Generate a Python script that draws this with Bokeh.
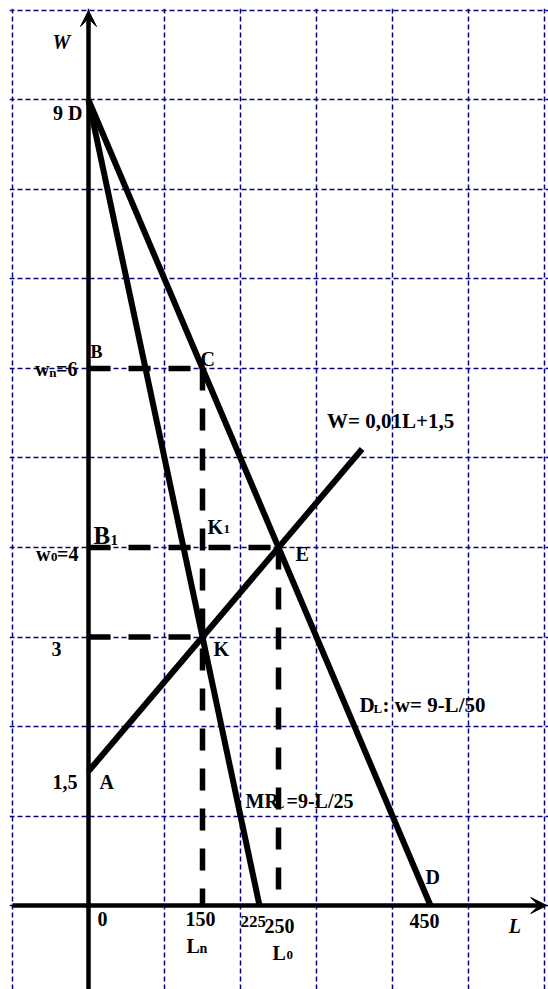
from bokeh.plotting import figure
from bokeh.models import Grid, FixedTicker, Arrow, VeeHead, Range1d
from bokeh.core.properties import value
from bokeh.embed import file_html
from bokeh.resources import INLINE

# ---------------- data ----------------
grid_L = [-100, 0, 100, 200, 300, 400, 500, 600]
grid_W = [-1, 0, 1, 2, 3, 4, 5, 6, 7, 8, 9, 10]

demand_L = [0, 450]      # D_L: w = 9 - L/50
demand_W = [9, 0]
mr_L = [0, 225]          # MR_L = 9 - L/25
mr_W = [9, 0]
wage_L = [0, 360]        # W = 0,01L + 1,5
wage_W = [1.5, 5.1]

C_L, C_W = 150, 6        # monopsony point C (L_n, w_n)
E_L, E_W = 250, 4        # competitive equilibrium E (L_0, w_0)
K_L, K_W = 150, 3        # point K

L_ticks = [0, 150, 225, 250, 450]
W_ticks = [1.5, 3, 4, 6, 9]

L_axis = [-100, 603]
W_axis = [-0.94, 10]

# ---------------- figure ----------------
p = figure(width=548, height=989,
           x_range=Range1d(-103.95, 605.26), y_range=Range1d(-0.9385, 10.0223),
           x_axis_type=None, y_axis_type=None,
           toolbar_location=None, output_backend="svg",
           min_border_left=9, min_border_top=8, min_border_right=0, min_border_bottom=0,
           outline_line_color=None)
p.background_fill_color = "white"
p.border_fill_color = "white"

for dim, ticks in ((0, grid_L), (1, grid_W)):
    p.add_layout(Grid(dimension=dim, ticker=FixedTicker(ticks=ticks),
                      grid_line_color="#000080", grid_line_dash="5 3",
                      grid_line_width=1.5))

# axes with arrows
p.add_layout(Arrow(end=VeeHead(size=16, fill_color="black", line_color="black"),
                   x_start=L_axis[0], y_start=0, x_end=L_axis[1], y_end=0,
                   line_width=4.5, line_color="black"))
p.add_layout(Arrow(end=VeeHead(size=16, fill_color="black", line_color="black"),
                   x_start=0, y_start=W_axis[0], x_end=0, y_end=W_axis[1],
                   line_width=4.5, line_color="black"))

# dashed guides
p.segment(x0=[0, 0, 0], y0=[C_W, E_W, K_W], x1=[C_L, E_L, K_L], y1=[C_W, E_W, K_W],
          line_color="black", line_width=5.5, line_dash="22 18")
p.segment(x0=[C_L, E_L], y0=[C_W, E_W], x1=[C_L, E_L], y1=[0, 0],
          line_color="black", line_width=5.5, line_dash="22 18")

# main lines
p.line(demand_L, demand_W, line_color="black", line_width=6)
p.line(mr_L, mr_W, line_color="black", line_width=6)
p.line(wage_L, wage_W, line_color="black", line_width=6)

FONT = value("Liberation Serif")
BASE_SHIFT = 0.34  # compensates the renderer's baseline placement (fraction of font size)


def lab(txt, L, W, dx, dy, size=20, align="left", style="bold"):
    p.text(x=[L], y=[W], text=[txt], x_offset=dx, y_offset=dy - BASE_SHIFT * size,
           text_font=FONT, text_font_size=f"{size}px", text_font_style=style,
           text_align=align, text_baseline="alphabetic", text_color="black")


# axis names
lab("W", 0, W_axis[1], -36, 38, 20, style="bold italic")
lab("L", L_axis[1], 0, -38, 27, 20, style="bold italic")

# W-axis labels
lab("9 D", 0, W_ticks[4], -6, 20, 20, "right")
lab("B", 0, W_ticks[3], 2, -10, 18)
lab("=6", 0, W_ticks[3], -11, 7, 20, "right")
lab("n", 0, W_ticks[3], -32, 8, 13, "right")
lab("w", 0, W_ticks[3], -39, 7, 20, "right")
lab("B", 0, W_ticks[2], 5, -4, 25)
lab("1", 0, W_ticks[2], 22, -2, 15)
lab("=4", 0, W_ticks[2], -10, 13, 20, "right")
lab("0", 0, W_ticks[2], -31, 14, 13, "right")
lab("w", 0, W_ticks[2], -38, 13, 20, "right")
lab("3", 0, W_ticks[1], -27, 19, 20, "right")
lab("1,5", 0, W_ticks[0], -11, 18, 20, "right")
lab("A", 0, W_ticks[0], 11, 18, 20)

# point labels
lab("C", C_L, C_W, -2, -3, 20)
lab("K", C_L, E_W, 5, -14, 20)
lab("1", C_L, E_W, 21, -14, 13)
lab("K", K_L, K_W, 11, 19, 20)
lab("E", E_L, E_W, 17, 13, 20)

# equation labels
lab("W= 0,01L+1,5", wage_L[1], wage_W[1], -35, -21, 21)
lab("D", 350, 2, 5, -14, 21)
lab("L", 350, 2, 19, -14, 13)
lab(": w= 9-L/50", 350, 2, 28, -14, 21)
lab("MR", 200, 1, 5, -8, 20)
lab("L", 200, 1, 35, -8, 13)
lab("=9-L/25", 200, 1, 46, -8, 20)
lab("D", demand_L[1], 0, -5, -22, 20)

# L-axis labels
lab("0", L_ticks[0], 0, 9, 20, 20)
lab("150", L_ticks[1], 0, -2, 20, 20, "center")
lab("L", L_ticks[1], 0, -16, 47, 20)
lab("n", L_ticks[1], 0, -3, 48, 14)
lab("225", L_ticks[2], 0, -19, 22, 17)
lab("250", L_ticks[3], 0, -14, 27, 20)
lab("L", L_ticks[3], 0, -6, 54, 20)
lab("0", L_ticks[3], 0, 8, 54, 13)
lab("450", L_ticks[4], 0, -6, 22, 20, "center")

open("out.html", "w").write(file_html(p, INLINE))
